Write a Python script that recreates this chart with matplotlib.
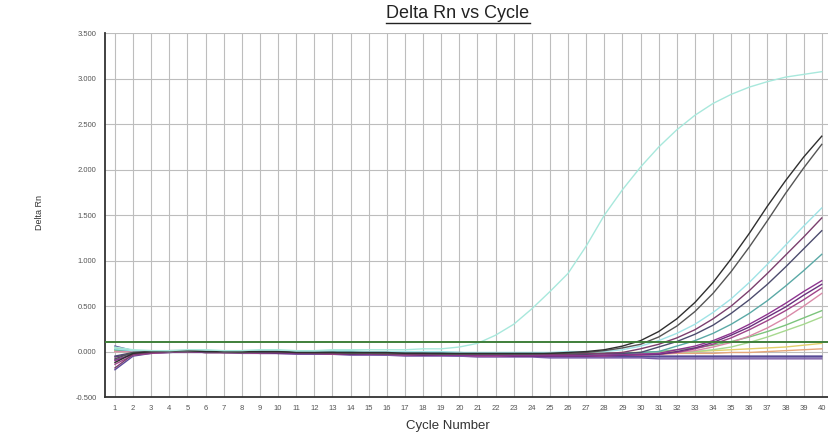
import matplotlib
matplotlib.use("Agg")
import matplotlib.pyplot as plt
from matplotlib.lines import Line2D

plt.rcParams['font.family'] = ['Liberation Sans', 'DejaVu Sans']

cycles = list(range(1, 41))
y_ticks = [-0.5, 0.0, 0.5, 1.0, 1.5, 2.0, 2.5, 3.0, 3.5]
threshold = 0.11

# amplification curves, one value per cycle
cyan_a = [0.05, 0.02, 0.01, 0.01, 0.02, 0.02, 0.01, 0.01, 0.02, 0.02,
          0.01, 0.01, 0.02, 0.02, 0.02, 0.02, 0.02, 0.03, 0.03, 0.05,
          0.09, 0.18, 0.30, 0.47, 0.66, 0.86, 1.16, 1.50, 1.78, 2.03,
          2.25, 2.44, 2.60, 2.73, 2.83, 2.91, 2.97, 3.02, 3.05, 3.08]
black_a = [-0.12, -0.02, 0.00, 0.01, 0.01, 0.00, 0.00, 0.00, 0.00, 0.00,
           -0.01, -0.01, -0.01, -0.01, -0.01, -0.01, -0.02, -0.02, -0.02, -0.02,
           -0.02, -0.02, -0.02, -0.02, -0.02, -0.01, 0.00, 0.02, 0.06, 0.12,
           0.22, 0.36, 0.54, 0.76, 1.02, 1.30, 1.60, 1.88, 2.14, 2.37]
black_b = [-0.08, -0.01, 0.00, 0.00, 0.01, 0.00, 0.00, -0.01, 0.00, 0.00,
           -0.01, -0.01, -0.01, -0.02, -0.02, -0.02, -0.02, -0.02, -0.03, -0.03,
           -0.03, -0.03, -0.03, -0.03, -0.02, -0.02, -0.01, 0.01, 0.04, 0.08,
           0.16, 0.28, 0.44, 0.64, 0.88, 1.15, 1.44, 1.74, 2.02, 2.28]
cyan_b = [0.03, 0.01, 0.01, 0.00, 0.01, 0.01, 0.00, 0.00, 0.01, 0.01,
          0.00, 0.00, 0.01, 0.01, 0.00, 0.00, 0.00, 0.00, 0.00, -0.01,
          -0.01, -0.01, -0.01, -0.01, -0.01, 0.00, 0.00, 0.00, 0.02, 0.06,
          0.12, 0.20, 0.30, 0.43, 0.58, 0.76, 0.96, 1.17, 1.38, 1.58]
plum_a = [-0.18, -0.03, -0.01, 0.00, 0.00, 0.00, -0.01, -0.01, 0.00, -0.01,
          -0.01, -0.02, -0.02, -0.02, -0.02, -0.03, -0.03, -0.03, -0.03, -0.03,
          -0.03, -0.03, -0.03, -0.03, -0.03, -0.03, -0.02, -0.02, -0.01, 0.03,
          0.08, 0.15, 0.24, 0.36, 0.50, 0.67, 0.86, 1.06, 1.26, 1.47]
slate_a = [-0.05, -0.01, 0.00, 0.00, 0.00, 0.00, 0.00, 0.00, -0.01, -0.01,
           -0.01, -0.01, -0.01, -0.02, -0.02, -0.02, -0.02, -0.02, -0.02, -0.03,
           -0.03, -0.03, -0.03, -0.03, -0.03, -0.03, -0.03, -0.02, -0.02, -0.01,
           0.05, 0.11, 0.19, 0.29, 0.42, 0.57, 0.74, 0.93, 1.13, 1.33]
teal_a = [0.02, 0.01, 0.00, 0.01, 0.01, 0.00, 0.00, 0.01, 0.01, 0.00,
          0.00, 0.00, 0.00, 0.00, -0.01, -0.01, -0.01, -0.01, -0.01, -0.01,
          -0.02, -0.02, -0.02, -0.02, -0.02, -0.02, -0.02, -0.02, -0.02, -0.01,
          0.00, 0.06, 0.12, 0.20, 0.30, 0.42, 0.56, 0.72, 0.89, 1.07]
purple_a = [-0.10, -0.03, -0.01, 0.00, 0.00, -0.01, -0.01, -0.01, -0.01, -0.01,
            -0.02, -0.02, -0.02, -0.02, -0.03, -0.03, -0.03, -0.03, -0.04, -0.04,
            -0.04, -0.04, -0.04, -0.04, -0.04, -0.04, -0.04, -0.04, -0.03, -0.03,
            -0.02, 0.02, 0.06, 0.12, 0.20, 0.30, 0.41, 0.53, 0.66, 0.78]
purple_b = [-0.06, -0.02, -0.01, 0.00, 0.00, 0.00, -0.01, -0.01, -0.01, -0.02,
            -0.02, -0.02, -0.02, -0.03, -0.03, -0.03, -0.03, -0.04, -0.04, -0.04,
            -0.04, -0.04, -0.05, -0.05, -0.05, -0.05, -0.05, -0.04, -0.04, -0.03,
            -0.03, 0.00, 0.04, 0.10, 0.18, 0.27, 0.38, 0.49, 0.62, 0.74]
purple_c = [-0.14, -0.04, -0.02, -0.01, 0.00, -0.01, -0.01, -0.01, -0.02, -0.02,
            -0.02, -0.02, -0.03, -0.03, -0.03, -0.03, -0.04, -0.04, -0.04, -0.04,
            -0.05, -0.05, -0.05, -0.05, -0.05, -0.05, -0.05, -0.05, -0.04, -0.04,
            -0.03, -0.01, 0.03, 0.08, 0.15, 0.24, 0.34, 0.45, 0.57, 0.70]
pink_a = [0.00, 0.00, 0.00, 0.00, 0.00, 0.00, 0.00, -0.01, -0.01, -0.01,
          -0.01, -0.01, -0.01, -0.01, -0.02, -0.02, -0.02, -0.02, -0.02, -0.02,
          -0.02, -0.02, -0.03, -0.03, -0.03, -0.03, -0.03, -0.03, -0.02, -0.02,
          -0.02, -0.01, 0.01, 0.05, 0.10, 0.17, 0.26, 0.37, 0.50, 0.64]
green_a = [0.04, 0.01, 0.01, 0.00, 0.01, 0.01, 0.00, 0.00, 0.00, 0.00,
           0.00, -0.01, -0.01, -0.01, -0.01, -0.01, -0.01, -0.02, -0.02, -0.02,
           -0.02, -0.02, -0.02, -0.02, -0.02, -0.02, -0.02, -0.02, -0.02, -0.02,
           -0.01, -0.01, 0.00, 0.02, 0.05, 0.10, 0.16, 0.23, 0.30, 0.38]
green_b = [0.02, 0.01, 0.00, 0.00, 0.00, 0.00, 0.00, 0.00, 0.00, -0.01,
           -0.01, -0.01, -0.01, -0.01, -0.01, -0.02, -0.02, -0.02, -0.02, -0.02,
           -0.02, -0.02, -0.02, -0.02, -0.02, -0.02, -0.02, -0.02, -0.02, -0.01,
           0.00, 0.02, 0.04, 0.07, 0.11, 0.16, 0.22, 0.29, 0.37, 0.45]
yellow_a = [0.01, 0.00, 0.00, 0.00, 0.00, 0.00, 0.00, 0.00, 0.00, 0.00,
            -0.01, -0.01, -0.01, -0.01, -0.01, -0.01, -0.01, -0.01, -0.01, -0.02,
            -0.02, -0.02, -0.02, -0.02, -0.02, -0.02, -0.02, -0.02, -0.01, -0.01,
            -0.01, 0.00, 0.00, 0.01, 0.02, 0.03, 0.04, 0.05, 0.07, 0.09]
orange_a = [0.00, 0.00, 0.00, 0.00, 0.00, -0.01, -0.01, -0.01, -0.01, -0.01,
            -0.01, -0.01, -0.01, -0.02, -0.02, -0.02, -0.02, -0.02, -0.02, -0.02,
            -0.03, -0.03, -0.03, -0.03, -0.03, -0.03, -0.03, -0.03, -0.03, -0.03,
            -0.03, -0.02, -0.02, -0.02, -0.01, -0.01, 0.00, 0.01, 0.02, 0.03]
violet_a = [-0.20, -0.05, -0.02, -0.01, 0.00, -0.01, -0.01, -0.01, -0.02, -0.02,
            -0.02, -0.03, -0.03, -0.03, -0.03, -0.04, -0.04, -0.04, -0.04, -0.05,
            -0.05, -0.05, -0.05, -0.05, -0.06, -0.06, -0.06, -0.06, -0.06, -0.06,
            -0.06, -0.06, -0.06, -0.06, -0.06, -0.06, -0.06, -0.06, -0.06, -0.06]
violet_b = [-0.09, -0.03, -0.01, -0.01, -0.01, -0.01, -0.01, -0.02, -0.02, -0.02,
            -0.03, -0.03, -0.03, -0.04, -0.04, -0.04, -0.05, -0.05, -0.05, -0.05,
            -0.06, -0.06, -0.06, -0.06, -0.07, -0.07, -0.07, -0.07, -0.07, -0.07,
            -0.08, -0.08, -0.08, -0.08, -0.08, -0.08, -0.08, -0.08, -0.08, -0.08]
violet_c = [0.06, 0.01, 0.00, 0.00, 0.00, -0.01, -0.01, -0.01, -0.01, -0.02,
            -0.02, -0.02, -0.02, -0.03, -0.03, -0.03, -0.03, -0.03, -0.04, -0.04,
            -0.04, -0.04, -0.04, -0.04, -0.04, -0.04, -0.05, -0.05, -0.05, -0.05,
            -0.05, -0.05, -0.05, -0.05, -0.05, -0.05, -0.05, -0.05, -0.05, -0.05]

series = [
    (violet_a, "#5b4b9b"), (violet_b, "#7a5aa8"), (violet_c, "#4a3c8c"),
    (orange_a, "#e6a77a"), (yellow_a, "#e3cf6a"), (green_b, "#7cc47c"),
    (green_a, "#a7d98f"), (pink_a, "#d98aa8"), (purple_c, "#a0448a"),
    (purple_b, "#6b2f7e"), (purple_a, "#8e3590"), (teal_a, "#5aa9a6"),
    (slate_a, "#4c4c6e"), (plum_a, "#7b3f6e"), (cyan_b, "#9fe3e6"),
    (black_b, "#555555"), (black_a, "#2f2f2f"), (cyan_a, "#a8e8dc"),
]

fig = plt.figure(figsize=(8.29, 4.37), dpi=100)
ax = fig.add_axes([105 / 829, 40 / 437, 724 / 829, 363.5 / 437])

for values, color in series:
    ax.plot(cycles, values, color=color, lw=1.0)

ax.axhline(threshold, color="#3f7f3a", lw=1.4, zorder=5)

ax.set_xlim(0.45, 40.4)
ax.set_ylim(-0.5, 3.5)
ax.set_xticks(cycles)
ax.set_xticklabels([str(c) for c in cycles], fontsize=5.5, color="#555555")
ax.set_yticks(y_ticks)
ax.set_yticklabels(["%.3f" % v for v in y_ticks], fontsize=5.5, color="#555555")
ax.tick_params(length=0, pad=6)
ax.grid(True, color="#bdbdbd", lw=0.8)
ax.set_axisbelow(True)

for side in ["top", "right"]:
    ax.spines[side].set_visible(False)
for side in ["left", "bottom"]:
    ax.spines[side].set_color("#333333")
    ax.spines[side].set_linewidth(1.3)

fig.text(40 / 829, 1 - 212 / 437, "Delta Rn", rotation=90, fontsize=6.5,
         ha="center", va="center", color="#333333")
fig.text(448 / 829, 1 - 426 / 437, "Cycle Number", fontsize=9.5,
         ha="center", va="center", color="#333333")

title = fig.text(458 / 829, 1 - 13 / 437, "Delta Rn vs Cycle", fontsize=13,
                 ha="center", va="center", color="#222222")

# underline under the title
fig.canvas.draw()
bb = title.get_window_extent()
x0, x1 = bb.x0 / fig.bbox.width, bb.x1 / fig.bbox.width
yu = (bb.y0 - 1) / fig.bbox.height
fig.add_artist(Line2D([x0, x1], [yu, yu], color="#222222", lw=1.0,
                      transform=fig.transFigure))

fig.savefig("out.png", dpi=100)
